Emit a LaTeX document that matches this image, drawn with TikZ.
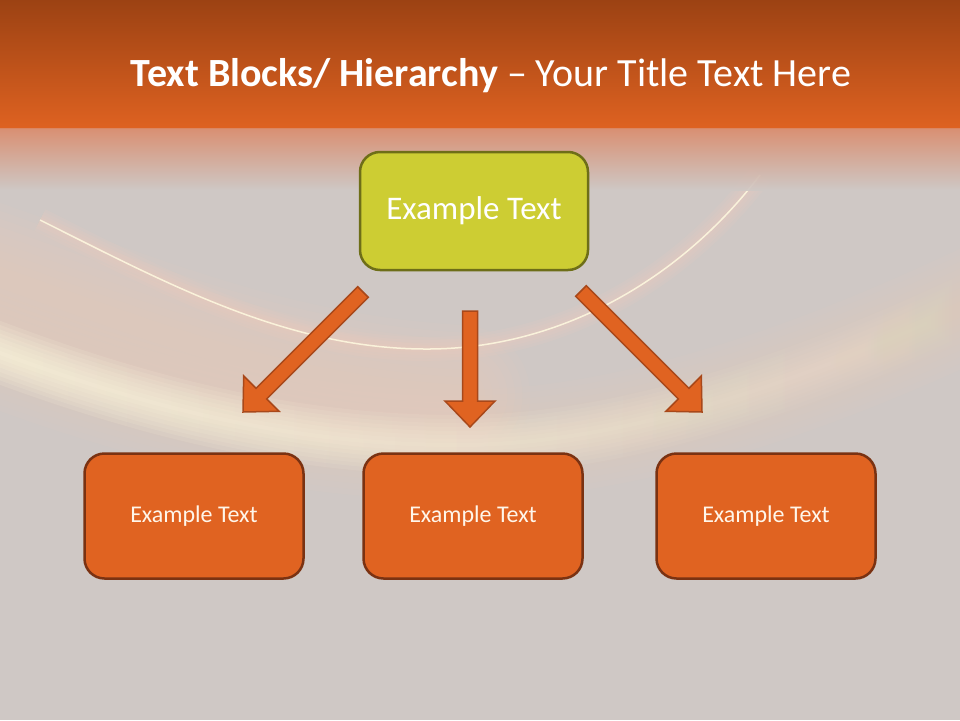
\documentclass[tikz,border=0pt]{standalone}
\usepackage{fontspec}
\setmainfont{Carlito}
\usetikzlibrary{calc,fadings}
\definecolor{bggrey}{HTML}{CFC8C5}
\definecolor{topdark}{HTML}{9C4213}
\definecolor{toporange}{HTML}{DE6221}
\definecolor{fadesalmon}{HTML}{DA8A6A}
\definecolor{limefill}{HTML}{CDCD33}
\definecolor{limeline}{HTML}{6E6E18}
\definecolor{boxfill}{HTML}{E06321}
\definecolor{boxline}{HTML}{7A3212}
\definecolor{arrowline}{HTML}{A8481A}
\definecolor{glowcream}{HTML}{FFFAE0}
\definecolor{glowpink}{HTML}{F8CCBC}
\definecolor{textcream}{HTML}{FFF6EA}
\tikzfading[name=glowfade, left color=transparent!0, middle color=transparent!10, right color=transparent!90]
\tikzset{
  topbox/.style={draw=limeline, line width=2.5pt, fill=limefill, rounded corners=20pt,
    minimum width=228pt, minimum height=118pt, text=white, font=\fontsize{33}{38}\selectfont},
  lowbox/.style={draw=boxline, line width=2.5pt, fill=boxfill, rounded corners=20pt,
    minimum width=219pt, minimum height=125pt, text=textcream, font=\fontsize{24}{28}\selectfont},
  blockarrowstyle/.style={draw=arrowline, line width=1.5pt, fill=boxfill, line join=miter},
}
\newcommand\myblockarrow[2]{%
  \draw[blockarrowstyle]
    ($(#1)!7.5pt!90:(#2)$) --
    ($($(#2)!26pt!(#1)$)!7.5pt!-90:(#1)$) --
    ($($(#2)!26pt!(#1)$)!25pt!-90:(#1)$) --
    (#2) --
    ($($(#2)!26pt!(#1)$)!25pt!90:(#1)$) --
    ($($(#2)!26pt!(#1)$)!7.5pt!90:(#1)$) --
    ($(#1)!7.5pt!-90:(#2)$) -- cycle;}
\newcommand\glowA{(40,220) .. controls (170,285) and (290,350) .. (430,349) .. controls (560,348) and (680,280) .. (760,175)}
\newcommand\glowB{(-20,345) .. controls (150,410) and (300,445) .. (460,445) .. controls (620,445) and (800,385) .. (980,300)}
\newcommand\glowC{(-20,270) .. controls (150,330) and (280,385) .. (460,395)}
\begin{document}
\begin{tikzpicture}[x=1pt,y=-1pt]
\useasboundingbox (0,0) rectangle (960,720);
% background
\fill[bggrey] (0,0) rectangle (960,720);
\begin{scope}
\clip (0,128) rectangle (960,720);
\foreach \w in {140,125,...,10} {
  \draw[glowpink, line width=\w pt, opacity=0.06, line cap=round] \glowC;
}
\foreach \w in {110,98,...,4} {
  \draw[glowpink, line width=\w pt, opacity=0.05, line cap=round] \glowB;
}
\foreach \w in {60,52,...,2} {
  \draw[glowcream, line width=\w pt, opacity=0.14, path fading=glowfade] \glowB;
}
\foreach \w in {24,18,...,2} {
  \draw[glowpink, line width=\w pt, opacity=0.1] \glowA;
}
\draw[glowcream, line width=1.5pt, opacity=0.85] \glowA;
\end{scope}
\shade[top color=topdark, bottom color=toporange] (0,0) rectangle (960,128);
\shade[top color=fadesalmon, bottom color=bggrey, opacity=0.9] (0,128) rectangle (960,190);
% title
\node[text=white, font=\fontsize{40}{44}\selectfont, anchor=center] (title) at (491,76)
  {\textbf{Text Blocks/ Hierarchy} – Your Title Text Here};
% boxes
\node[topbox] (top) at (474,211) {Example Text};
\node[lowbox] (left) at (194,516) {Example Text};
\node[lowbox] (mid) at (473,516) {Example Text};
\node[lowbox] (right) at (766,516) {Example Text};
% arrows
\coordinate (la) at (363,292);
\coordinate (lb) at (243,412);
\coordinate (ma) at (470,311);
\coordinate (mb) at (470,427);
\coordinate (ra) at (581,291);
\coordinate (rb) at (702,412);
\myblockarrow{la}{lb}
\myblockarrow{ma}{mb}
\myblockarrow{ra}{rb}
\end{tikzpicture}
\end{document}
